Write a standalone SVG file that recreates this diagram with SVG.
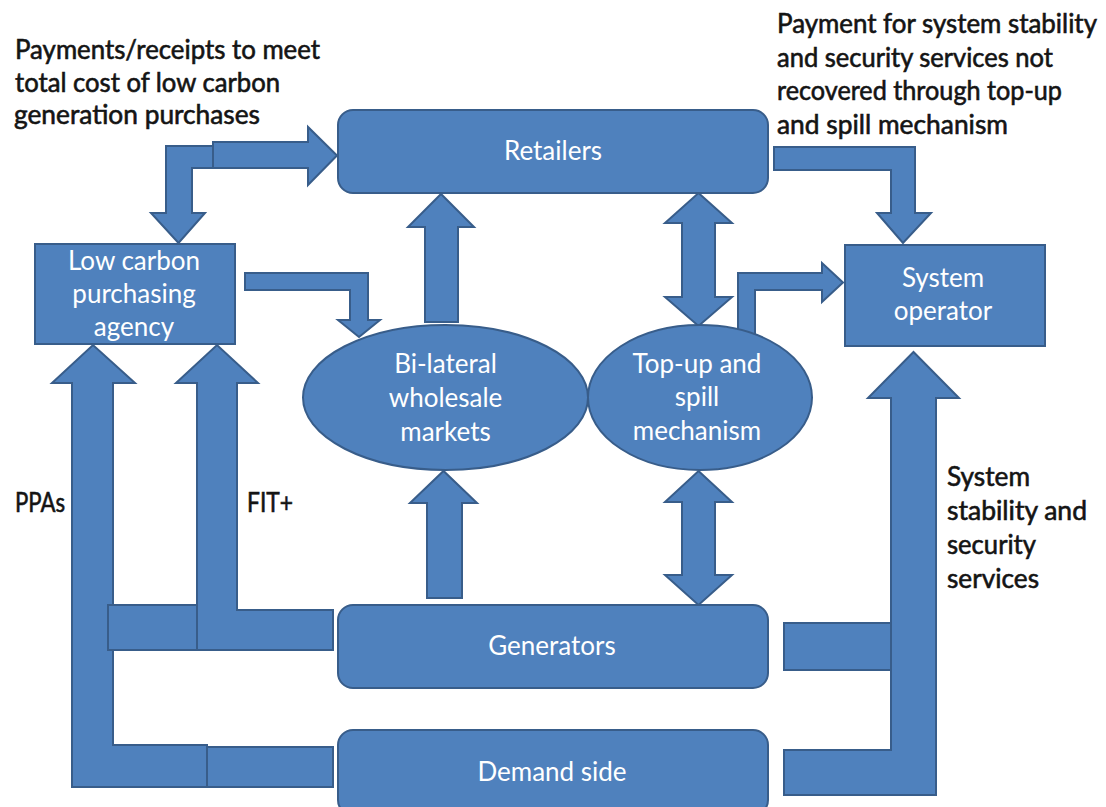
<svg xmlns="http://www.w3.org/2000/svg" width="1106" height="807" viewBox="0 0 1106 807">
<style>
.shape{fill:#4F81BD;stroke:#385D8A;stroke-width:2;stroke-linejoin:miter}
.lbl{font-family:Lato,"Open Sans","Liberation Sans",sans-serif;font-size:26px;fill:#ffffff;text-anchor:middle}
.note{font-family:Lato,"Open Sans","Liberation Sans",sans-serif;font-size:26px;fill:#141414;stroke:#141414;stroke-width:0.6}
</style>
<rect width="1106" height="807" fill="#ffffff"/>
<g id="annotations">
<text class="note" x="15" y="59" textLength="305" lengthAdjust="spacingAndGlyphs">Payments/receipts to meet</text>
<text class="note" x="15" y="92" textLength="265" lengthAdjust="spacingAndGlyphs">total cost of low carbon</text>
<text class="note" x="14" y="124" textLength="246" lengthAdjust="spacingAndGlyphs">generation purchases</text>
<text class="note" x="777" y="33" textLength="320" lengthAdjust="spacingAndGlyphs">Payment for system stability</text>
<text class="note" x="777" y="67" textLength="276" lengthAdjust="spacingAndGlyphs">and security services not</text>
<text class="note" x="777" y="100" textLength="285" lengthAdjust="spacingAndGlyphs">recovered through top-up</text>
<text class="note" x="777" y="134" textLength="231" lengthAdjust="spacingAndGlyphs">and spill mechanism</text>
<text class="note" x="947" y="486" textLength="83" lengthAdjust="spacingAndGlyphs">System</text>
<text class="note" x="947" y="520" textLength="140" lengthAdjust="spacingAndGlyphs">stability and</text>
<text class="note" x="947" y="554" textLength="89" lengthAdjust="spacingAndGlyphs">security</text>
<text class="note" x="947" y="588" textLength="92" lengthAdjust="spacingAndGlyphs">services</text>
<text class="note" x="15" y="512" textLength="50" lengthAdjust="spacingAndGlyphs">PPAs</text>
<text class="note" x="247" y="512" textLength="46" lengthAdjust="spacingAndGlyphs">FIT+</text>
</g>
<g id="connectors">
<polygon class="shape" points="166,146 213,146 213,168 192,168 192,213 205,213 178.5,243 151,213 166,213"/>
<polygon class="shape" points="213,142 308,142 308,127 337,155.5 308,185 308,168 213,168"/>
<polygon class="shape" points="245,273 368,273 368,320 380,320 359,337 338,320 350,320 350,290 245,290"/>
<polygon class="shape" points="425,322 425,227 408,227 441,194 474,227 458,227 458,322"/>
<polygon class="shape" points="427,598 427,503 410,503 443.5,471 477,503 462,503 462,598"/>
<polygon class="shape" points="698.5,193 732,223 715,223 715,297 732,297 698.5,326 665,297 682,297 682,223 665,223"/>
<polygon class="shape" points="698.5,471 732,502 715,502 715,575 732,575 698.5,605 665,575 682,575 682,502 665,502"/>
<polygon class="shape" points="738,340 738,273 822,273 822,263 843,282.5 822,302 822,290 755,290 755,340"/>
<polygon class="shape" points="774,147 915,147 915,213 931,213 903,243 877,213 891,213 891,170 774,170"/>
<polygon class="shape" points="784,750 891,750 891,398 868,398 913.5,352 959,398 936,398 936,795 784,795"/>
<rect class="shape" x="784" y="623" width="107" height="47"/>
<polygon class="shape" points="72,787 72,383 52,383 93,345 135,383 113,383 113,745 207,745 207,787"/>
<rect class="shape" x="207" y="747" width="126" height="40"/>
<rect class="shape" x="108" y="605" width="89" height="45"/>
<polygon class="shape" points="197,650 197,383 176,383 217,345 258,383 237,383 237,610 333,610 333,650"/>
</g>
<g id="retailers">
<rect class="shape" x="338" y="110" width="430" height="83" rx="15"/>
<text class="lbl" x="553" y="160">Retailers</text>
</g>
<g id="agency">
<rect class="shape" x="35" y="244" width="200" height="100"/>
<text class="lbl" x="134" y="270">Low carbon</text>
<text class="lbl" x="134" y="303">purchasing</text>
<text class="lbl" x="134" y="336">agency</text>
</g>
<g id="system-operator">
<rect class="shape" x="845" y="245" width="200" height="101"/>
<text class="lbl" x="943" y="287">System</text>
<text class="lbl" x="943" y="320">operator</text>
</g>
<g id="bilateral">
<ellipse class="shape" cx="445.5" cy="397.5" rx="142.5" ry="72.5"/>
<text class="lbl" x="445.5" y="373">Bi-lateral</text>
<text class="lbl" x="445.5" y="407">wholesale</text>
<text class="lbl" x="445.5" y="441">markets</text>
</g>
<g id="topup">
<ellipse class="shape" cx="700" cy="397.5" rx="112" ry="72.5"/>
<text class="lbl" x="697" y="373">Top-up and</text>
<text class="lbl" x="697" y="406">spill</text>
<text class="lbl" x="697" y="440">mechanism</text>
</g>
<g id="generators">
<rect class="shape" x="338" y="605" width="430" height="83" rx="15"/>
<text class="lbl" x="552" y="655">Generators</text>
</g>
<g id="demand">
<rect class="shape" x="338" y="730" width="430" height="85" rx="15"/>
<text class="lbl" x="552" y="781">Demand side</text>
</g>
</svg>
